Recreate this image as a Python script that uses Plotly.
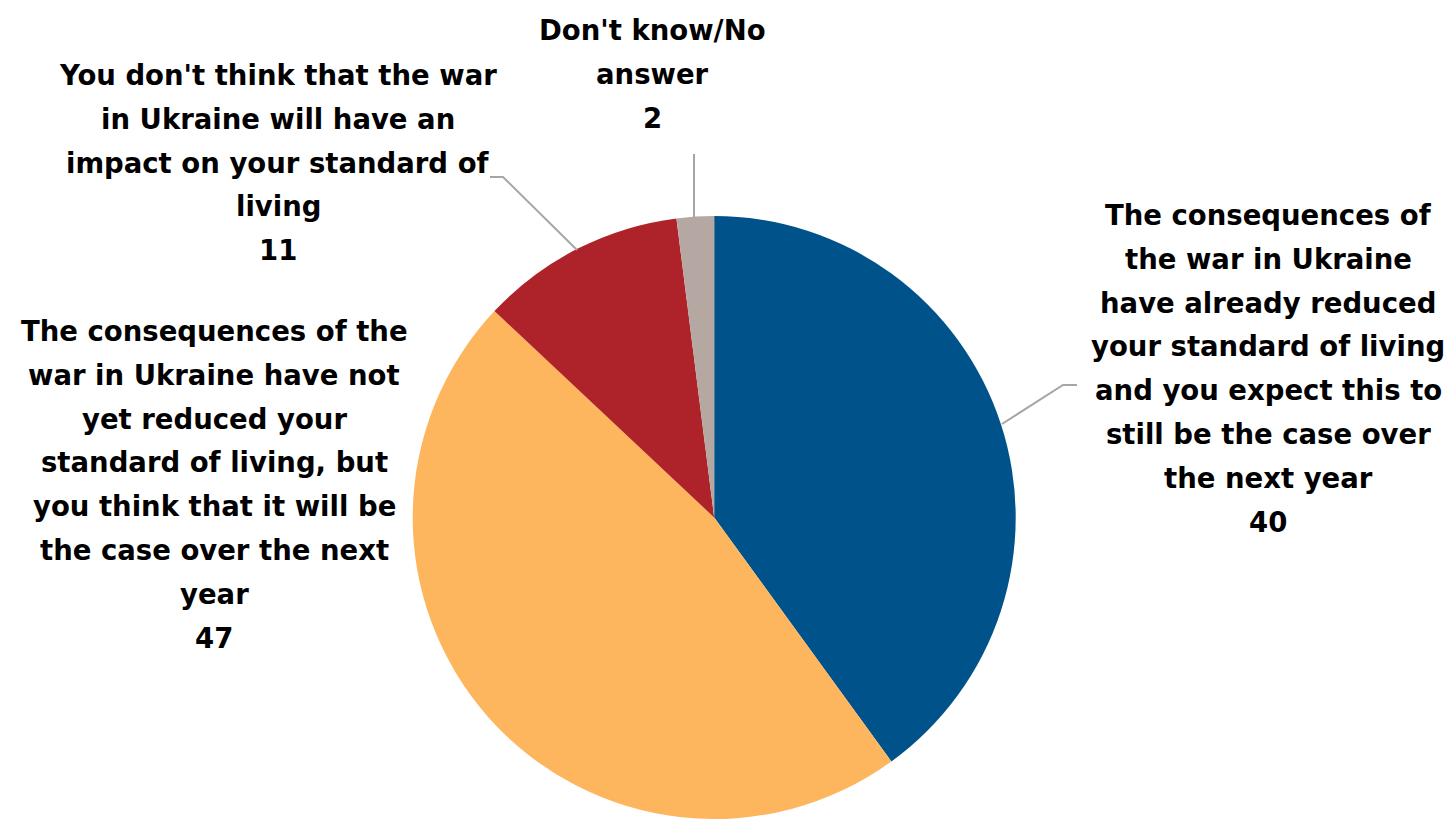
import plotly.graph_objects as go

W, H = 1455, 819
OFF = 8  # page body margin offset

categories = [
    "The consequences of the war in Ukraine have already reduced your standard of living and you expect this to still be the case over the next year",
    "The consequences of the war in Ukraine have not yet reduced your standard of living, but you think that it will be the case over the next year",
    "You don't think that the war in Ukraine will have an impact on your standard of living",
    "Don't know/No answer",
]
values = [40, 47, 11, 2]
colors = ["#00528A", "#FDB65E", "#AE2329", "#B5A8A2"]

label_lines = [
    ["The consequences of", "the war in Ukraine", "have already reduced", "your standard of living",
     "and you expect this to", "still be the case over", "the next year"],
    ["The consequences of the", "war in Ukraine have not", "yet reduced your", "standard of living, but",
     "you think that it will be", "the case over the next", "year"],
    ["You don't think that the war", "in Ukraine will have an", "impact on your standard of", "living"],
    ["Don't know/No", "answer"],
]

# label layout (pixel positions of centre x and first line y, line step)
label_pos = [(1268, 215), (214, 331), (278, 75), (652, 30)]
line_step = 43.8

# leader lines (pixel coordinates)
leaders = [
    [(1002, 424), (1063, 385), (1077, 385)],
    None,
    [(577, 250), (503, 177), (490, 177)],
    [(694, 217), (694, 154)],
]

cx, cy, r = 714.2, 517.5, 301.5

def px(x):
    return (x - OFF) / W

def py(y):
    return 1 - (y - OFF) / H

fig = go.Figure(go.Pie(
    labels=categories,
    values=values,
    marker=dict(colors=colors, line=dict(width=0)),
    sort=False,
    direction="clockwise",
    rotation=0,
    textinfo="none",
    hoverinfo="label+value",
    showlegend=False,
    domain=dict(x=[px(cx - r), px(cx + r)], y=[py(cy + r), py(cy - r)]),
))

font = dict(family="DejaVu Sans", size=27.5, color="#000000", weight="bold")

annotations = []
for lines, val, (x0, y0) in zip(label_lines, values, label_pos):
    allines = lines + [str(val)]
    for i, t in enumerate(allines):
        annotations.append(dict(
            x=px(x0), y=py(y0 + i * line_step), xref="paper", yref="paper",
            text="<b>%s</b>" % t, showarrow=False, xanchor="center", yanchor="middle",
            font=font,
        ))

shapes = []
for pts in leaders:
    if not pts:
        continue
    path = "M " + " L ".join("%f,%f" % (px(x), py(y)) for x, y in pts)
    shapes.append(dict(type="path", path=path, xref="paper", yref="paper",
                       line=dict(color="#A6A6A6", width=2)))

fig.update_layout(
    width=W, height=H,
    margin=dict(l=0, r=0, t=0, b=0),
    paper_bgcolor="white", plot_bgcolor="white",
    annotations=annotations, shapes=shapes,
)

fig.write_html("out.html")
